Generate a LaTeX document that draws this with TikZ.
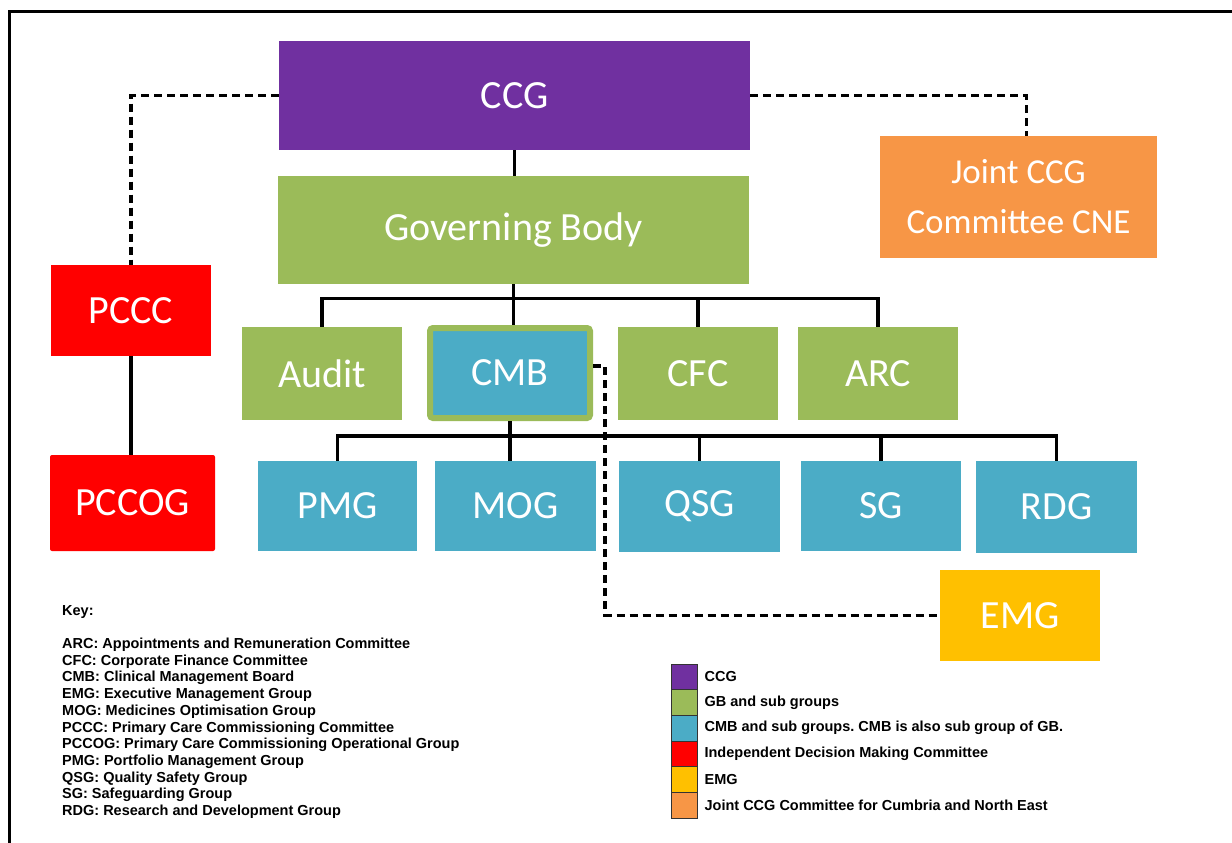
\documentclass[tikz,border=0pt]{standalone}
\usepackage{fontspec}
\setmainfont{Carlito}
\newfontfamily\keyfont{Liberation Sans}
\usetikzlibrary{positioning}
\definecolor{ccgpurple}{HTML}{7030A0}
\definecolor{gbgreen}{HTML}{9BBB59}
\definecolor{cmbblue}{HTML}{4BACC6}
\definecolor{indred}{HTML}{FF0000}
\definecolor{emgyellow}{HTML}{FFC000}
\definecolor{jointorange}{HTML}{F79646}
\tikzset{
  orgbox/.style={fill=#1, text=white, inner sep=0pt, align=center,
    font=\fontsize{40}{50}\selectfont},
  conn/.style={line width=3.3pt},
  link/.style={line width=3.3pt, dash pattern=on 8pt off 5pt},
  swatch/.style={draw=black!80, line width=0.8pt, fill=#1, inner sep=0pt,
    minimum width=26pt, minimum height=25.7pt},
  keytext/.style={inner sep=0pt, align=left,
    font=\keyfont\bfseries\fontsize{14.5}{16.7}\selectfont}
}

\begin{document}
\frenchspacing
\begin{tikzpicture}[x=1pt, y=-1pt]
  \useasboundingbox (0,0) rectangle (1232,843);
  % page frame
  \draw[line width=3pt] (9,843) -- (9,12) -- (1232,12);

  % top level
  \node[orgbox=ccgpurple, minimum width=471pt, minimum height=109pt] (ccg) at (514.5,95.5) {CCG};
  \node[orgbox=gbgreen, minimum width=471pt, minimum height=108pt] (gb) at (513.5,230) {Governing Body};
  \node[orgbox=jointorange, minimum width=277pt, minimum height=122pt,
        font=\fontsize{35}{50}\selectfont] (joint) at (1018.5,197) {Joint CCG\\Committee CNE};

  % independent committees
  \node[orgbox=indred, minimum width=160pt, minimum height=91pt] (pccc) at (131,310.5) {PCCC};
  \node[orgbox=indred, minimum width=165pt, minimum height=96pt, rounded corners=2pt] (pccog) at (132.5,503) {PCCOG};

  % GB sub groups
  \node[orgbox=gbgreen, minimum width=160pt, minimum height=93pt] (audit) at (322,373.5) {Audit};
  \node[orgbox=cmbblue, draw=gbgreen, line width=6pt, rounded corners=3pt,
        minimum width=160pt, minimum height=90pt] (cmb) at (510,373) {CMB};
  \node[orgbox=gbgreen, minimum width=160pt, minimum height=93pt] (cfc) at (698,373.5) {CFC};
  \node[orgbox=gbgreen, minimum width=160pt, minimum height=93pt] (arc) at (878,373.5) {ARC};

  % CMB sub groups
  \node[orgbox=cmbblue, minimum width=159pt, minimum height=90pt] (pmg) at (337.5,506) {PMG};
  \node[orgbox=cmbblue, minimum width=161pt, minimum height=90pt] (mog) at (515.5,506) {MOG};
  \node[orgbox=cmbblue, minimum width=161pt, minimum height=91pt] (qsg) at (699.5,506.5) {QSG};
  \node[orgbox=cmbblue, minimum width=160pt, minimum height=90pt] (sg) at (881,506) {SG};
  \node[orgbox=cmbblue, minimum width=161pt, minimum height=92pt] (rdg) at (1056.5,507) {RDG};
  \node[orgbox=emgyellow, minimum width=160pt, minimum height=91pt] (emg) at (1020,615.5) {EMG};

  % solid reporting lines
  \draw[conn] (ccg.south) -- (ccg.south |- gb.north);
  \draw[conn] (gb.south) -- (gb.south |- cmb.north);
  \draw[conn] (gb.south) -- ++(0,14) coordinate (gbbus);
  \draw[conn] (audit.north) |- (gbbus);
  \draw[conn] (cfc.north) |- (gbbus);
  \draw[conn] (arc.north) |- (gbbus);
  \draw[conn] (cmb.south) -- (cmb.south |- mog.north);
  \draw[conn] (cmb.south) -- ++(0,15) coordinate (cmbbus);
  \draw[conn] (pmg.north) |- (cmbbus);
  \draw[conn] (qsg.north) |- (cmbbus);
  \draw[conn] (sg.north) |- (cmbbus);
  \draw[conn] (rdg.north) |- (cmbbus);
  \draw[conn] (pccc.south) -- (pccc.south |- pccog.north);

  % dashed links
  \draw[link] (ccg.west) -| (pccc.north);
  \draw[link] (ccg.east) -| ([xshift=8pt]joint.north);
  \draw[link] ([yshift=7pt]cmb.east) -- ++(12,0) |- (emg.west);

  % key
  \node[keytext, anchor=north west] (key) at (62,605) {Key:\\[16.7pt]
    ARC: Appointments and Remuneration Committee\\
    CFC: Corporate Finance Committee\\
    CMB: Clinical Management Board\\
    EMG: Executive Management Group\\
    MOG: Medicines Optimisation Group\\
    PCCC: Primary Care Commissioning Committee\\
    PCCOG: Primary Care Commissioning Operational Group\\
    PMG: Portfolio Management Group\\
    QSG: Quality Safety Group\\
    SG: Safeguarding Group\\
    RDG: Research and Development Group};

  % colour legend
  \foreach \c/\t [count=\i] in {ccgpurple/CCG, gbgreen/GB and sub groups,
      cmbblue/CMB and sub groups. CMB is also sub group of GB.,
      indred/Independent Decision Making Committee, emgyellow/EMG,
      jointorange/Joint CCG Committee for Cumbria and North East}{
    \node[swatch=\c] (sw\i) at (684,{676.85+(\i-1)*25.7}) {};
    \node[keytext, anchor=west] (lg\i) at ([xshift=7pt]sw\i.east) {\t};
  }
\end{tikzpicture}
\end{document}
